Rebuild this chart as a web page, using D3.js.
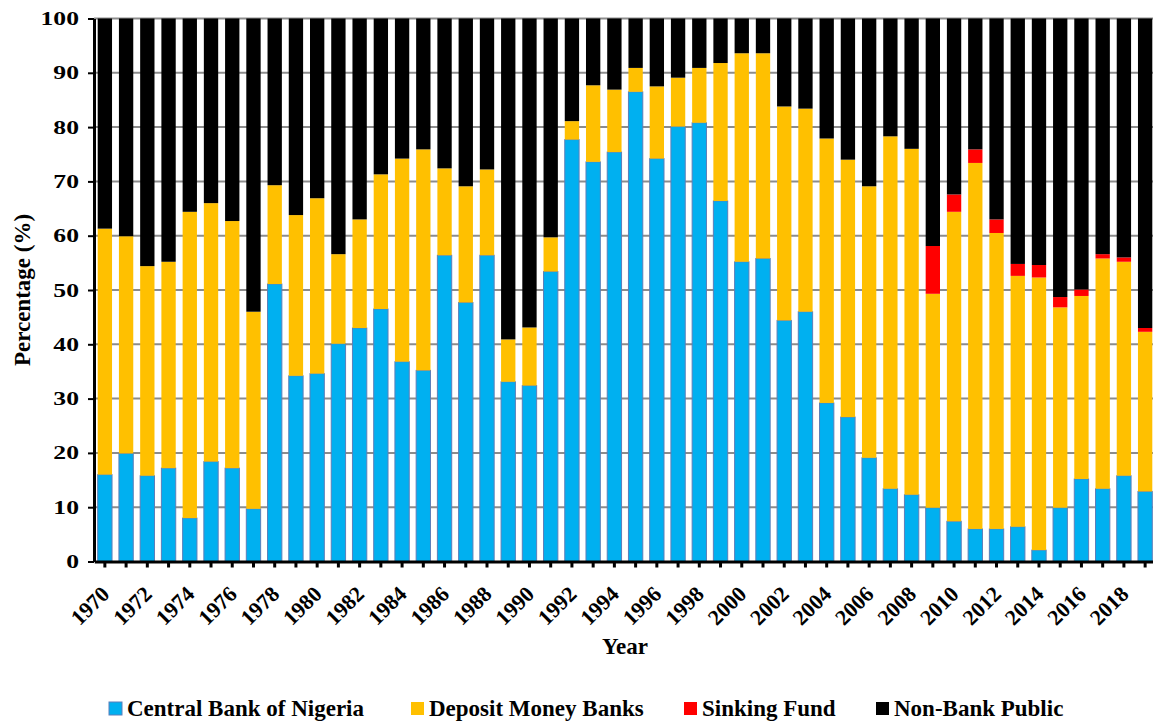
<!DOCTYPE html>
<html>
<head>
<meta charset="utf-8">
<script src="https://cdn.jsdelivr.net/npm/d3@7/dist/d3.min.js"></script>
<style>
  body { margin: 0; background: #fff; }
</style>
</head>
<body>
<div id="chart"></div>
<script>
// holders of government debt, share of total (%)
var years = [1970, 1971, 1972, 1973, 1974, 1975, 1976, 1977, 1978, 1979,
  1980, 1981, 1982, 1983, 1984, 1985, 1986, 1987, 1988, 1989,
  1990, 1991, 1992, 1993, 1994, 1995, 1996, 1997, 1998, 1999,
  2000, 2001, 2002, 2003, 2004, 2005, 2006, 2007, 2008, 2009,
  2010, 2011, 2012, 2013, 2014, 2015, 2016, 2017, 2018, 2019];

var cbn = [16.0, 19.9, 15.8, 17.2, 8.0, 18.4, 17.2, 9.7, 51.1, 34.2,
  34.6, 40.1, 43.0, 46.5, 36.8, 35.2, 56.4, 47.7, 56.4, 33.1,
  32.4, 53.4, 77.7, 73.6, 75.4, 86.5, 74.2, 80.1, 80.8, 66.4,
  55.2, 55.8, 44.4, 46.0, 29.2, 26.6, 19.1, 13.4, 12.3, 9.9,
  7.4, 6.0, 6.0, 6.4, 2.1, 9.9, 15.2, 13.4, 15.8, 12.9];

var dmb = [45.3, 40.0, 38.6, 38.0, 56.4, 47.6, 45.5, 36.3, 18.2, 29.6,
  32.3, 16.5, 20.0, 24.8, 37.4, 40.7, 16.0, 21.4, 15.8, 7.8,
  10.7, 6.3, 3.4, 14.1, 11.5, 4.4, 13.3, 9.0, 10.1, 25.4,
  38.4, 37.8, 39.4, 37.4, 48.7, 47.4, 50.0, 64.9, 63.7, 39.4,
  57.0, 67.4, 54.5, 46.2, 50.2, 36.9, 33.7, 42.4, 39.4, 29.4];

var sinking = [0, 0, 0, 0, 0, 0, 0, 0, 0, 0,
  0, 0, 0, 0, 0, 0, 0, 0, 0, 0,
  0, 0, 0, 0, 0, 0, 0, 0, 0, 0,
  0, 0, 0, 0, 0, 0, 0, 0, 0, 8.8,
  3.2, 2.5, 2.5, 2.2, 2.3, 1.9, 1.2, 0.8, 0.8, 0.7];

var nbp = [38.7, 40.1, 45.6, 44.8, 35.6, 34.0, 37.3, 54.0, 30.7, 36.2,
  33.1, 43.4, 37.0, 28.7, 25.8, 24.1, 27.6, 30.9, 27.8, 59.1,
  56.9, 40.3, 18.9, 12.3, 13.1, 9.1, 12.5, 10.9, 9.1, 8.2,
  6.4, 6.4, 16.2, 16.6, 22.1, 26.0, 30.9, 21.7, 24.0, 41.9,
  32.4, 24.1, 37.0, 45.2, 45.4, 51.3, 49.9, 43.4, 44.0, 57.0];

var seriesNames = ["Central Bank of Nigeria", "Deposit Money Banks", "Sinking Fund", "Non-Bank Public"];
var seriesColors = ["#00b0f0", "#ffc000", "#ff0000", "#000000"];
var yTicks = [0, 10, 20, 30, 40, 50, 60, 70, 80, 90, 100];

var width = 1153;
var height = 722;
var serif = "'Liberation Serif', 'Times New Roman', Tinos, 'DejaVu Serif', serif";

function drawChart() {
  // rows for d3.stack
  var rows = years.map(function(yr, i) {
    var r = { year: yr };
    r[seriesNames[0]] = cbn[i];
    r[seriesNames[1]] = dmb[i];
    r[seriesNames[2]] = sinking[i];
    r[seriesNames[3]] = nbp[i];
    return r;
  });

  var stacked = d3.stack().keys(seriesNames)(rows);

  var x = d3.scaleBand()
    .domain(years)
    .range([94.25, 1155.75])
    .paddingInner(0.325)
    .paddingOuter(0.1625);

  var y = d3.scaleLinear()
    .domain([0, 100])
    .range([561.5, 18.5]);

  var color = d3.scaleOrdinal().domain(seriesNames).range(seriesColors);

  var svg = d3.select('#chart')
    .append('svg')
    .attr('width', width)
    .attr('height', height);

  // grid lines sit behind the bars
  svg.append('g')
    .selectAll('line')
    .data(yTicks.slice(1))
    .enter().append('line')
      .attr('x1', 94)
      .attr('x2', width)
      .attr('y1', d => y(d))
      .attr('y2', d => y(d))
      .attr('stroke', '#8c8c8c')
      .attr('stroke-width', 2);

  svg.append('g')
    .selectAll('g')
    .data(stacked)
    .enter().append('g')
      .attr('fill', d => color(d.key))
      .attr('stroke', (d, i) => i == 0 ? '#5b7fba' : 'none')
      .attr('stroke-width', 1)
    .selectAll('rect')
    .data(d => d)
    .enter().append('rect')
      .attr('x', d => x(d.data.year))
      .attr('width', x.bandwidth())
      .attr('y', d => y(d[1]))
      .attr('height', d => Math.max(0, y(d[0]) - y(d[1])));

  // y axis
  var yAxis = svg.append('g')
    .attr('transform', 'translate(94,0)')
    .call(d3.axisLeft(y).tickValues(yTicks).tickSize(6).tickSizeOuter(0));
  yAxis.select('.domain').attr('stroke-width', 3);
  yAxis.selectAll('.tick line').attr('stroke-width', 2);
  yAxis.selectAll('.tick text')
    .attr('x', -15 / 1.35)
    .attr('transform', 'scale(1.35,1)')
    .style('font-family', serif)
    .style('font-weight', 'bold')
    .style('font-size', '19px');

  // x axis, labels every second year
  var xAxis = svg.append('g')
    .attr('transform', 'translate(0,561.5)')
    .call(d3.axisBottom(x).tickSize(6).tickSizeOuter(0)
      .tickFormat((d, i) => i % 2 == 0 ? d : ''));
  xAxis.select('.domain').attr('stroke-width', 3);
  xAxis.selectAll('.tick line').attr('stroke-width', 3);
  xAxis.selectAll('.tick text')
    .attr('y', 0)
    .attr('dy', 0)
    .attr('text-anchor', 'end')
    .attr('transform', 'translate(6,34) rotate(-45)')
    .style('font-family', serif)
    .style('font-weight', 'bold')
    .style('font-size', '22px');

  // axis titles
  svg.append('text')
    .attr('x', 625)
    .attr('y', 654)
    .attr('text-anchor', 'middle')
    .style('font-family', serif)
    .style('font-weight', 'bold')
    .style('font-size', '23px')
    .text('Year');

  svg.append('text')
    .attr('transform', 'translate(30,290) rotate(-90)')
    .attr('text-anchor', 'middle')
    .style('font-family', serif)
    .style('font-weight', 'bold')
    .style('font-size', '23px')
    .text('Percentage (%)');

  // legend
  var legendX = [109, 411, 684, 876];
  var legend = svg.append('g')
    .selectAll('g')
    .data(seriesNames)
    .enter().append('g')
      .attr('transform', (d, i) => 'translate(' + legendX[i] + ',702)');

  legend.append('rect')
    .attr('width', 13)
    .attr('height', 13)
    .attr('fill', d => color(d))
    .attr('stroke', (d, i) => i == 0 ? '#5b7fba' : 'none');

  legend.append('text')
    .attr('x', 18)
    .attr('y', 14)
    .style('font-family', serif)
    .style('font-weight', 'bold')
    .style('font-size', '23px')
    .text(d => d);
}

window.onload = drawChart;
</script>
</body>
</html>
